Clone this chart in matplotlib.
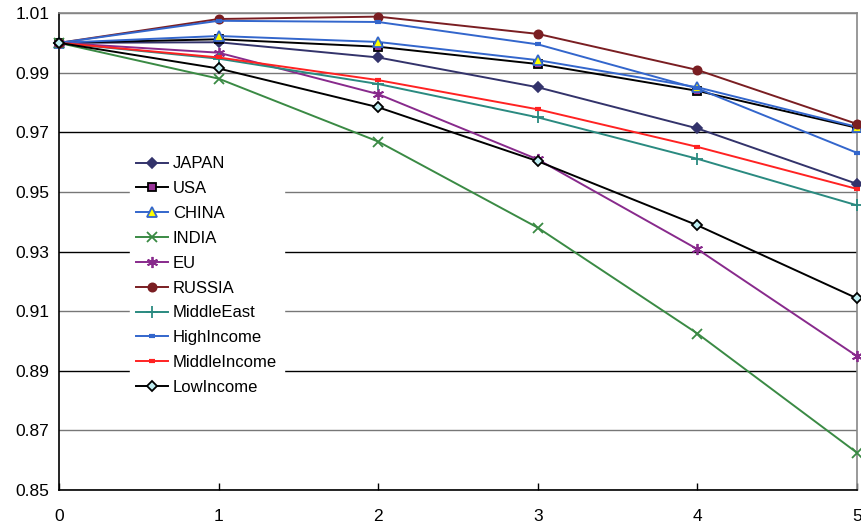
import numpy as np
import matplotlib
matplotlib.use("Agg")
import matplotlib.pyplot as plt

plt.rcParams['font.family'] = ['Liberation Sans', 'DejaVu Sans']

# x axis: years / steps
steps = [0, 1, 2, 3, 4, 5]

japan = [1.0, 1.0002, 0.9951, 0.9851, 0.9713, 0.9527]
usa = [1.0, 1.0012, 0.9987, 0.9929, 0.9839, 0.9715]
china = [1.0, 1.0023, 1.0003, 0.9942, 0.9851, 0.9718]
india = [1.0, 0.9880, 0.9669, 0.9380, 0.9025, 0.8625]
eu = [1.0, 0.9967, 0.9828, 0.9609, 0.9308, 0.8949]
russia = [1.0, 1.0080, 1.0088, 1.0030, 0.9909, 0.9728]
middle_east = [1.0, 0.9947, 0.9862, 0.9750, 0.9611, 0.9455]
high_income = [1.0, 1.0074, 1.0070, 0.9995, 0.9847, 0.9631]
middle_income = [1.0, 0.9951, 0.9875, 0.9777, 0.9651, 0.9510]
low_income = [1.0, 0.9914, 0.9784, 0.9603, 0.9388, 0.9143]

yticks = [0.85, 0.87, 0.89, 0.91, 0.93, 0.95, 0.97, 0.99, 1.01]

# name, data, line colour, marker, marker face, marker edge, marker size, edge width
series = [
    ("JAPAN", japan, "#33336b", "D", "#33336b", "#33336b", 5.5, 1.2),
    ("USA", usa, "#000000", "s", "#993399", "#000000", 5.5, 1.3),
    ("CHINA", china, "#3366cc", "^", "#ffff00", "#3366cc", 7, 1.3),
    ("INDIA", india, "#3a8a44", "x", "#3a8a44", "#3a8a44", 7, 1.3),
    ("EU", eu, "#882a8c", (6, 2, 0), "#882a8c", "#882a8c", 8, 1.3),
    ("RUSSIA", russia, "#7a1e22", "o", "#7a1e22", "#7a1e22", 6, 1.2),
    ("MiddleEast", middle_east, "#2a8a80", "+", "#2a8a80", "#2a8a80", 9, 1.3),
    ("HighIncome", high_income, "#3366cc", "_", "#3366cc", "#3366cc", 5, 3),
    ("MiddleIncome", middle_income, "#ff2222", "_", "#ff2222", "#ff2222", 5, 3),
    ("LowIncome", low_income, "#000000", "D", "#bfeef2", "#000000", 5, 1.3),
]

fig = plt.figure(figsize=(8.62, 5.26), dpi=100)
ax = fig.add_axes([0.0684, 0.0684, 0.9258, 0.9068])

for name, vals, col, mk, mfc, mec, ms, mew in series:
    ax.plot(steps, vals, color=col, lw=1.4, marker=mk, markersize=ms,
            markerfacecolor=mfc, markeredgecolor=mec, markeredgewidth=mew,
            label=name, clip_on=False, zorder=3)

ax.set_xlim(0, 5)
ax.set_ylim(0.85, 1.01)
ax.set_xticks(steps)
ax.set_yticks(yticks)
ax.set_yticklabels(["%.2f" % v for v in yticks])
ax.yaxis.grid(True, lw=1.0)
ax.set_axisbelow(True)
# grid lines alternate between grey and black in the original
grid_cols = ["black", "#777777", "black", "#777777", "black", "#777777", "black", "#777777", "#777777"]
for gl, c in zip(ax.get_ygridlines(), grid_cols):
    gl.set_color(c)

ax.tick_params(axis="x", direction="in", length=5, width=1, labelsize=12.5, pad=14)
ax.tick_params(axis="y", length=0, labelsize=12.5, pad=7)

ax.spines["left"].set_color("black")
ax.spines["bottom"].set_color("black")
ax.spines["top"].set_color("#888888")
ax.spines["right"].set_color("#888888")
for s in ax.spines.values():
    s.set_linewidth(1.2)

leg = ax.legend(loc="upper left", bbox_to_anchor=(0.078, 0.731), fontsize=12,
                handlelength=1.9, labelspacing=0.59, borderpad=0.4,
                handletextpad=0.3, frameon=True, fancybox=False)
leg.get_frame().set_facecolor("white")
leg.get_frame().set_edgecolor("white")
leg.get_frame().set_alpha(1)

fig.savefig("out.png", dpi=100)
